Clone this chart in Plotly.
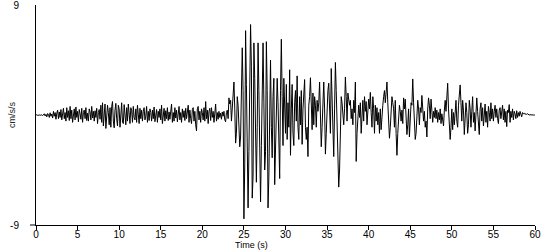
import plotly.graph_objects as go

# Sample interval of the accelerogram (s)
DT = 0.1

# Acceleration (cm/s/s), one row per second of record, 10 samples per row
accel_rows = [
    [0, 0.02, -0.03, 0.02, 0.0, -0.02, 0.03, 0.01, -0.05, 0.04],            # 0
    [0.1, -0.08, 0.05, -0.15, 0.12, 0.05, -0.2, 0.18, -0.1, 0.08],          # 1
    [-0.25, 0.3, -0.1, 0.2, -0.35, 0.15, 0.4, -0.3, 0.25, -0.2],            # 2
    [0.45, -0.4, 0.1, 0.55, -0.3, 0.2, -0.5, 0.6, -0.2, 0.35],              # 3
    [-0.45, 0.7, -0.3, 0.4, -0.6, 0.25, 0.5, -0.4, 0.65, -0.2],             # 4
    [0.3, -0.55, 0.45, 0.1, -0.35, 0.55, -0.6, 0.2, 0.4, -0.3],             # 5
    [0.6, -0.45, 0.15, -0.5, 0.5, 0.25, -0.4, 0.7, -0.25, 0.3],             # 6
    [-0.5, 0.35, -0.2, 0.55, -0.7, 0.2, 0.45, -0.35, 0.8, -0.6],            # 7
    [1.0, -0.9, 0.3, 0.9, -1.1, -0.4, 0.8, 0.2, -0.8, 0.6],                 # 8
    [-1.0, 0.7, 1.1, -0.5, -1.05, 0.4, 0.95, -0.3, -0.9, 0.8],              # 9
    [0.5, -1.0, 0.3, 1.0, -0.6, -0.7, 0.85, 0.2, -0.8, 0.6],                # 10
    [-0.5, 0.9, -0.3, -0.7, 0.6, 0.4, -0.6, 0.7, -0.2, -0.4],               # 11
    [0.5, -0.6, 0.8, 0.1, -0.7, 0.55, -0.3, 0.4, -0.5, 0.3],                # 12
    [0.6, -0.4, -0.1, 0.7, -0.6, 0.3, -0.45, 0.5, 0.2, -0.5],               # 13
    [0.4, -0.3, 0.65, -0.55, 0.1, 0.45, -0.6, 0.3, -0.2, 0.5],              # 14
    [-0.4, 0.8, -0.7, 0.2, 0.55, -0.5, 0.35, -0.3, 0.6, -0.45],             # 15
    [0.25, -0.35, 0.5, 0.9, -0.6, 0.2, -0.5, 0.6, -0.25, 0.4],              # 16
    [-0.55, 0.3, 0.7, -0.4, 0.2, -0.6, 0.5, -0.2, 0.35, -0.45],             # 17
    [0.55, -0.3, 0.2, 0.8, -0.6, 0.4, -0.3, -0.7, 0.45, 0.6],               # 18
    [-0.5, 0.3, -0.8, -1.3, 0.5, 0.7, -0.4, 0.3, -0.6, 0.5],                # 19
    [0.2, -0.4, 0.6, -0.5, 1.1, -0.3, 0.4, -0.7, 0.3, 0.55],                # 20
    [-0.45, 0.6, -0.2, 0.3, -0.6, 0.4, 0.9, -0.5, 0.2, -0.35],              # 21
    [0.3, -0.2, 0.15, -0.35, 0.25, -0.1, 0.3, -0.4, -0.55, 0.2],            # 22
    [0.4, -0.3, 1.4, 0.9, 1.2, -0.5, 0.6, 1.8, 2.7, 0.5],                   # 23
    [-2.3, -1.5, 1.5, 0.8, -1.2, -2.6, -1.8, 1.2, 5.5, 2.0],                # 24
    [-8.5, -4.0, 6.9, 2.5, -5.0, -7.6, -3.0, 3.5, 7.4, 4.0],                # 25
    [-6.8, -5.0, 5.9, 3.0, -3.5, -5.5, -1.0, 5.9, 2.0, -4.0],               # 26
    [-7.1, -2.5, 3.5, 5.9, 1.0, -4.5, -3.0, 6.0, 2.0, -7.6],                # 27
    [-5.0, 2.0, 4.5, -1.0, -3.5, 1.5, 3.0, -5.7, -2.0, 2.5],                # 28
    [3.0, 1.0, -2.0, -5.2, 2.0, 6.2, 1.5, -2.5, 3.0, 0.5],                  # 29
    [-1.5, 2.5, -2.0, 1.0, -1.0, 3.7, -3.3, 0.5, 2.5, -1.5],                # 30
    [-2.5, 1.0, 2.0, -0.5, 3.2, -1.0, -2.0, 1.5, -0.8, 2.0],                # 31
    [-2.4, 0.5, 1.5, 2.9, -1.0, -2.0, -1.0, -3.4, 0.8, 1.5],                # 32
    [3.05, 0.5, -1.2, 1.8, -0.8, 1.5, 0.8, -1.0, 1.2, 0.3],                 # 33
    [1.0, 2.7, 0.5, -2.6, -1.0, 1.5, 2.7, 0.5, -3.2, -1.5],                 # 34
    [1.0, 2.0, 2.6, -0.5, -1.5, 3.8, 1.0, -2.0, -3.4, 0.5],                 # 35
    [4.3, 2.0, -1.5, -4.0, -5.9, -4.5, 0.0, 1.5, 1.0, -0.5],                # 36
    [-0.8, 0.5, 3.1, 1.5, -0.5, 1.8, 1.0, 0.8, 1.2, -0.3],                  # 37
    [0.5, -0.8, 1.2, 0.2, 2.7, -3.8, -1.5, -0.5, 0.8, -0.2],                # 38
    [1.0, -1.5, 0.5, 1.2, -0.5, 1.5, 0.3, 1.1, -0.8, 0.8],                  # 39
    [1.3, 0.5, 1.85, 0.2, -1.0, 1.5, 0.5, -1.5, 0.8, -0.5],                 # 40
    [0.6, -0.8, 0.2, -1.5, 0.5, -1.2, 0.3, 0.8, 1.5, 2.0],                  # 41
    [1.0, 2.0, 2.7, 1.0, -0.5, -1.9, -1.0, 0.5, 1.5, 1.0],                  # 42
    [0.5, -1.0, 1.2, -1.5, -3.3, -1.5, 0.5, 0.8, 0.3, -0.5],                # 43
    [0.4, -0.7, 1.4, 0.5, 1.3, 0.0, -1.6, -0.8, 0.5, -1.8],                 # 44
    [-0.5, 1.0, 0.8, 2.95, 1.0, -1.2, -2.0, -1.5, 0.5, 1.2],                # 45
    [0.5, -0.8, 0.6, 0.2, 1.6, 0.8, -0.5, 0.3, -1.0, -0.5],                 # 46
    [-1.8, 0.5, 1.4, 0.8, -0.3, 1.3, 0.2, -0.6, 0.3, -0.2],                 # 47
    [0.6, -0.3, 0.4, -0.6, 0.2, -0.4, 0.5, -0.7, 0.1, -0.5],                # 48
    [-0.9, 0.4, 1.2, 0.3, 1.8, 2.6, 0.5, -1.0, -2.0, -1.0],                 # 49
    [0.5, -1.2, 0.2, -0.8, 0.6, 1.2, -0.5, -1.0, 0.8, 1.5],                 # 50
    [2.46, 1.0, -0.5, 1.2, 0.4, -1.6, -0.3, 1.0, 0.2, -1.5],                # 51
    [-0.8, 1.2, 0.5, -1.0, 0.3, 1.5, -0.6, 0.2, -1.3, 0.8],                 # 52
    [1.4, 0.3, -0.8, -1.6, 0.5, 1.0, -0.5, 0.6, -0.9, 0.4],                 # 53
    [0.9, -0.6, 0.3, -1.0, 0.7, 0.2, -0.5, 1.0, -0.3, 0.5],                 # 54
    [-0.5, 0.3, 0.8, -0.2, 0.5, -0.3, -0.7, 0.4, 0.6, -0.3],                # 55
    [0.2, 0.8, -0.4, 0.5, -0.6, 0.3, -0.95, 0.4, 0.2, 0.85],                # 56
    [-0.6, 0.3, -0.2, 0.5, -0.4, 0.3, 0.1, -0.3, 0.35, -0.2],               # 57
    [0.2, -0.1, 0.3, 0.15, -0.15, 0.2, 0.1, 0.15, 0.05, 0.1],               # 58
    [0.05, 0.1, 0.0, 0.0, 0.02, 0.0, 0.0, 0.0, 0.0, 0.0],                   # 59
    [0.0],                                                                   # 60
]

accel = [v for row in accel_rows for v in row]
time_s = [round(i * DT, 3) for i in range(len(accel))]

x_ticks = list(range(0, 61, 5))
y_ticks = [-9, 9]

FONT = "Liberation Sans, Arial, sans-serif"

fig = go.Figure()
fig.add_trace(go.Scatter(
    x=time_s, y=accel, mode="lines",
    line=dict(color="black", width=1),
    hoverinfo="skip", showlegend=False,
))

fig.update_layout(
    width=550, height=250,
    margin=dict(l=36, r=15, t=5, b=25),
    paper_bgcolor="white", plot_bgcolor="white",
    font=dict(family=FONT, size=10, color="black"),
    xaxis=dict(
        range=[0, 60], tickvals=x_ticks, ticktext=[str(t) for t in x_ticks],
        ticks="outside", ticklen=4, tickcolor="black", tickwidth=1,
        showline=True, linecolor="black", linewidth=1,
        showgrid=False, zeroline=False, fixedrange=True, automargin=False,
        ticklabelstandoff=-4,
        tickfont=dict(family=FONT, size=10, color="black"),
    ),
    yaxis=dict(
        range=[-9, 9], tickvals=y_ticks, ticktext=[str(t) for t in y_ticks],
        ticks="", showline=True, linecolor="black", linewidth=1,
        showgrid=False, zeroline=False, fixedrange=True, automargin=False,
        ticklabelstandoff=14, ticklabeloverflow="allow",
        tickfont=dict(family=FONT, size=10, color="black"),
    ),
    annotations=[
        dict(text="Time (s)", xref="paper", yref="paper",
             x=(251 - 36) / 499, y=-20 / 220, xanchor="center", yanchor="middle",
             showarrow=False, font=dict(family=FONT, size=9, color="black")),
        dict(text="cm/s/s", xref="paper", yref="paper",
             x=-24 / 499, y=0.5, xanchor="center", yanchor="middle",
             textangle=-90, showarrow=False,
             font=dict(family=FONT, size=9, color="#222222")),
    ],
    shapes=[
        dict(type="line", xref="paper", yref="paper",
             x0=-6 / 499, x1=0, y0=0, y1=0,
             line=dict(color="black", width=1)),
    ],
)

fig.write_html("out.html")
